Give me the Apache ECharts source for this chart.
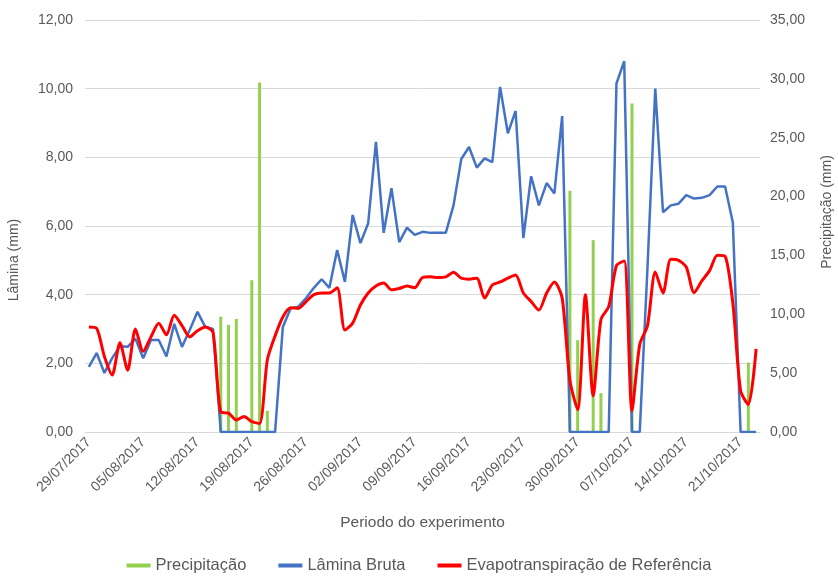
<!DOCTYPE html>
<html>
<head>
<meta charset="utf-8">
<script src="https://cdn.jsdelivr.net/npm/echarts@6/dist/echarts.min.js"></script>
<style>
html,body{margin:0;padding:0;background:#fff;}
#chart{width:838px;height:579px;}
</style>
</head>
<body>
<div id="chart"></div>
<script>
const categories = [
"29/07/2017","30/07/2017","31/07/2017",
"01/08/2017","02/08/2017","03/08/2017","04/08/2017","05/08/2017","06/08/2017","07/08/2017","08/08/2017","09/08/2017","10/08/2017",
"11/08/2017","12/08/2017","13/08/2017","14/08/2017","15/08/2017","16/08/2017","17/08/2017","18/08/2017","19/08/2017","20/08/2017",
"21/08/2017","22/08/2017","23/08/2017","24/08/2017","25/08/2017","26/08/2017","27/08/2017","28/08/2017","29/08/2017","30/08/2017","31/08/2017",
"01/09/2017","02/09/2017","03/09/2017","04/09/2017","05/09/2017","06/09/2017","07/09/2017","08/09/2017","09/09/2017","10/09/2017",
"11/09/2017","12/09/2017","13/09/2017","14/09/2017","15/09/2017","16/09/2017","17/09/2017","18/09/2017","19/09/2017","20/09/2017",
"21/09/2017","22/09/2017","23/09/2017","24/09/2017","25/09/2017","26/09/2017","27/09/2017","28/09/2017","29/09/2017","30/09/2017",
"01/10/2017","02/10/2017","03/10/2017","04/10/2017","05/10/2017","06/10/2017","07/10/2017","08/10/2017","09/10/2017","10/10/2017",
"11/10/2017","12/10/2017","13/10/2017","14/10/2017","15/10/2017","16/10/2017","17/10/2017","18/10/2017","19/10/2017","20/10/2017",
"21/10/2017","22/10/2017","23/10/2017"
];

const precipitacao = [
0,0,0,0,0,0,0,0,0,0,
0,0,0,0,0,0,0,9.8,9.1,9.6,
0,12.9,29.7,1.8,0,0,0,0,0,0,
0,0,0,0,0,0,0,0,0,0,
0,0,0,0,0,0,0,0,0,0,
0,0,0,0,0,0,0,0,0,0,
0,0,20.5,7.8,0,16.3,3.3,0,0,0,
27.9,0,0,0,0,0,0,0,0,0,
0,0,0,0,0,5.9,0
];

const laminaBruta = [
1.9,2.3,1.72,2.15,2.5,2.48,2.72,2.15,2.68,2.68,
2.2,3.15,2.48,2.97,3.5,3.06,3.0,0,0,0,
0,0,0,0,0,3.06,3.6,3.65,3.9,4.2,
4.45,4.2,5.3,4.37,6.32,5.5,6.08,8.45,5.8,7.1,
5.53,5.95,5.74,5.83,5.8,5.8,5.8,6.6,7.95,8.3,
7.7,7.97,7.86,10.05,8.7,9.35,5.65,7.45,6.6,7.25,
6.95,9.2,0,0,0,0,0,0,10.15,10.8,
0,0,4.8,10.0,6.4,6.6,6.65,6.9,6.8,6.82,
6.9,7.15,7.15,6.1,0,0,0
];

const evapotranspiracao = [
3.06,3.02,2.2,1.66,2.6,1.8,3.0,2.35,2.77,3.17,
2.83,3.4,3.1,2.77,2.95,3.06,2.9,0.58,0.55,0.35,
0.45,0.3,0.25,2.1,2.8,3.35,3.62,3.6,3.8,4.0,
4.05,4.05,4.2,2.97,3.17,3.7,4.05,4.25,4.34,4.14,
4.18,4.25,4.2,4.5,4.52,4.5,4.52,4.65,4.48,4.45,
4.48,3.9,4.28,4.37,4.48,4.57,4.05,3.8,3.55,4.05,
4.37,3.9,1.5,0.65,4.0,1.05,3.28,3.65,4.85,4.98,
0.62,2.55,3.1,4.66,4.05,5.03,5.0,4.8,4.06,4.4,
4.7,5.15,5.12,3.75,1.2,0.8,2.42
];

const seriesNames = ["Precipitação","Lâmina Bruta","Evapotranspiração de Referência"];
const leftAxisName = "Lâmina (mm)";
const rightAxisName = "Precipitação (mm)";
const xAxisName = "Periodo do experimento";

const fmt = v => v.toFixed(2).replace('.', ',');
const labelColor = '#595959';
const font = 'Liberation Sans, Arial, sans-serif';

const chart = echarts.init(document.getElementById('chart'), null, {renderer:'canvas'});
chart.setOption({
  animation:false,
  backgroundColor:'#ffffff',
  textStyle:{fontFamily:font},
  grid:{left:85, right:78, top:20, bottom:147, containLabel:false},
  legend:{
    bottom:0, left:'center', itemGap:32, itemWidth:24, itemHeight:4,
    textStyle:{fontSize:16.5, color:labelColor, fontFamily:font},
    data:[
      {name:seriesNames[0], icon:'rect'},
      {name:seriesNames[1], icon:'rect'},
      {name:seriesNames[2], icon:'rect'}
    ]
  },
  xAxis:{
    type:'category', data:categories, boundaryGap:true,
    axisTick:{show:false},
    axisLine:{lineStyle:{color:'#d9d9d9'}},
    axisLabel:{rotate:45, interval:6, fontSize:14, color:labelColor, margin:8, fontFamily:font},
    name:xAxisName, nameLocation:'middle', nameGap:83,
    nameTextStyle:{fontSize:15.5, color:labelColor, fontFamily:font}
  },
  yAxis:[
    {type:'value', min:0, max:12, interval:2,
     axisLabel:{formatter:fmt, fontSize:14, color:labelColor, margin:12, fontFamily:font},
     splitLine:{lineStyle:{color:'#d9d9d9'}},
     axisLine:{show:false}, axisTick:{show:false}},
    {type:'value', min:0, max:35, interval:5, position:'right',
     axisLabel:{formatter:fmt, fontSize:14, color:labelColor, margin:10, fontFamily:font},
     splitLine:{show:false},
     axisLine:{show:false}, axisTick:{show:false}}
  ],
  graphic:[
    {type:'text', x:14, y:260, rotation:Math.PI/2,
     style:{text:leftAxisName, fill:labelColor, font:'14px '+font, align:'center', verticalAlign:'middle'}},
    {type:'text', x:827, y:212, rotation:Math.PI/2,
     style:{text:rightAxisName, fill:labelColor, font:'14px '+font, align:'center', verticalAlign:'middle'}}
  ],
  series:[
    {name:seriesNames[0], type:'bar', yAxisIndex:1, data:precipitacao, barWidth:3,
     itemStyle:{color:'#92D050'}},
    {name:seriesNames[1], type:'line', yAxisIndex:0, data:laminaBruta, showSymbol:false, symbol:'none',
     lineStyle:{color:'#4472C4', width:2.5}, itemStyle:{color:'#4472C4'}},
    {name:seriesNames[2], type:'line', yAxisIndex:0, data:evapotranspiracao, showSymbol:false, symbol:'none',
     smooth:0.25, lineStyle:{color:'#FF0000', width:3}, itemStyle:{color:'#FF0000'}}
  ]
});
</script>
</body>
</html>
